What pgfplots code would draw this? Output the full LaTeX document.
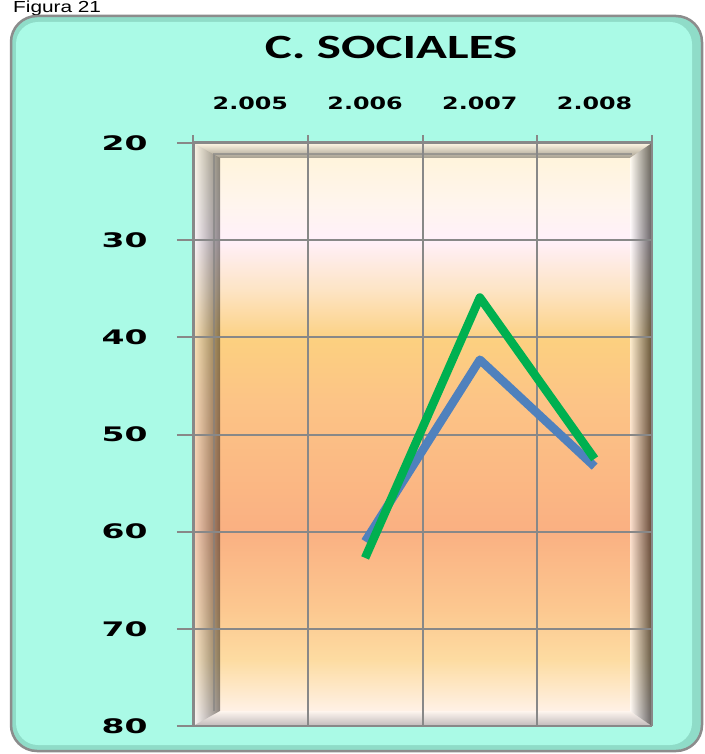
\documentclass[border=0pt]{standalone}
\usepackage{fontspec}
\setmainfont{DejaVu Sans}
\newfontfamily\titlefont{Carlito}
\newfontfamily\figfont{Liberation Sans}
\usepackage{graphicx}
\usepackage{pgfplots}
\pgfplotsset{compat=1.18}
\definecolor{aqua}{HTML}{AAFAE6}
\definecolor{aquadark}{HTML}{8FDCC8}
\definecolor{boxgray}{HTML}{8C8C8C}
\definecolor{gridgray}{HTML}{888888}
\definecolor{serblue}{HTML}{4F81BD}
\definecolor{sergreen}{HTML}{00B050}
\definecolor{g1}{HTML}{FFF3D6}
\definecolor{g2}{HTML}{FFF5EE}
\definecolor{g3}{HTML}{FFF0FA}
\definecolor{g4}{HTML}{FDE4C4}
\definecolor{g5}{HTML}{FCD080}
\definecolor{g6}{HTML}{FCC486}
\definecolor{g7}{HTML}{FAB082}
\definecolor{g8}{HTML}{FCC890}
\definecolor{g9}{HTML}{FDDCA2}
\definecolor{g10}{HTML}{FFF3EC}
\definecolor{g11}{HTML}{FFF5F5}
\begin{document}
\begin{tikzpicture}
\path[use as bounding box] (0,0) rectangle (704pt,-754pt);
\fill[white] (0,0) rectangle (704pt,-754pt);
\node[anchor=base west, inner sep=0pt, font=\figfont\fontsize{16}{16}\selectfont] at (13pt,-13pt) {\scalebox{1.3}[1]{Figura 21}};
% outer box
\fill[aquadark, rounded corners=26pt] (11pt,-16pt) rectangle (702pt,-751pt);
\fill[aqua, rounded corners=22pt] (16pt,-22pt) rectangle (692pt,-745pt);
\draw[boxgray, line width=2.5pt, rounded corners=26pt] (11pt,-16pt) rectangle (702pt,-751pt);
% plot area gradient
\shade[top color=g1, bottom color=g2] (193pt,-143pt) rectangle (652pt,-205.5pt);
\shade[top color=g2, bottom color=g3] (193pt,-205pt) rectangle (652pt,-240.5pt);
\shade[top color=g3, bottom color=g4] (193pt,-240pt) rectangle (652pt,-290.5pt);
\shade[top color=g4, bottom color=g5] (193pt,-290pt) rectangle (652pt,-340.5pt);
\shade[top color=g5, bottom color=g6] (193pt,-340pt) rectangle (652pt,-400.5pt);
\shade[top color=g6, bottom color=g7] (193pt,-400pt) rectangle (652pt,-530.5pt);
\shade[top color=g7, bottom color=g8] (193pt,-530pt) rectangle (652pt,-610.5pt);
\shade[top color=g8, bottom color=g9] (193pt,-610pt) rectangle (652pt,-660.5pt);
\shade[top color=g9, bottom color=g10] (193pt,-660pt) rectangle (652pt,-715.5pt);
\shade[top color=g10, bottom color=g11] (193pt,-715pt) rectangle (652pt,-726pt);
% 3D frame walls
\shade[left color=white, right color=black, fill opacity=0.45] (193pt,-143pt) -- (220pt,-158pt) -- (220pt,-711pt) -- (193pt,-726pt) -- cycle;
\shade[top color=white, bottom color=black, fill opacity=0.35] (193pt,-143pt) -- (652pt,-143pt) -- (630pt,-158pt) -- (220pt,-158pt) -- cycle;
\shade[left color=white, right color=black, fill opacity=0.6] (630pt,-158pt) -- (652pt,-143pt) -- (652pt,-726pt) -- (630pt,-711pt) -- cycle;
\shade[top color=white, bottom color=black!70, fill opacity=0.35] (220pt,-711pt) -- (630pt,-711pt) -- (652pt,-726pt) -- (193pt,-726pt) -- cycle;
\draw[black!50, line width=1.5pt, opacity=0.6] (214pt,-711pt) -- (214pt,-154pt) -- (632pt,-154pt);
% title
\node[anchor=base, inner sep=0pt, font=\titlefont\bfseries\fontsize{34}{34}\selectfont] at (391pt,-59pt) {\scalebox{1.5}[1]{C. SOCIALES}};
\begin{axis}[
  at={(193pt,-726pt)}, anchor=south west, scale only axis,
  width=459pt, height=583pt,
  xmin=0.5, xmax=4.5, ymin=20, ymax=80, y dir=reverse,
  axis line style={draw=none},
  /pgf/number format/assume math mode=true,
  xtick={1,2,3,4},
  xticklabels={{\scalebox{1.4}[1]{2.005}},{\scalebox{1.4}[1]{2.006}},{\scalebox{1.4}[1]{2.007}},{\scalebox{1.4}[1]{2.008}}},
  ytick={20,30,40,50,60,70,80},
  yticklabel={\scalebox{1.65}[1]{\pgfmathprintnumber{\tick}}},
  tick align=outside,
  ytick pos=left,
  xtick pos=upper, xticklabel pos=upper,
  major tick length=16pt,
  major x tick style={draw=none},
  major y tick style={draw=gridgray, line width=2pt},
  extra x ticks={0.5,1.5,2.5,3.5,4.5},
  extra x tick labels={},
  extra x tick style={grid=major, major tick length=8pt, major x tick style={draw=gridgray, line width=2pt}},
  ymajorgrids,
  grid style={draw=gridgray, line width=2pt},
  xticklabel style={font=\bfseries\fontsize{17}{17}\selectfont, anchor=center, yshift=24pt},
  yticklabel style={font=\bfseries\fontsize{20}{20}\selectfont, anchor=east, xshift=-26pt},
  clip=false,
]
\addplot[serblue, line width=8.5pt, line join=round] coordinates {(2,61.0) (3,42.3) (4,53.3)};
\addplot[sergreen, line width=8.5pt, line join=round] coordinates {(2,62.7) (3,35.9) (4,52.5)};
\end{axis}
\draw[gridgray, line width=3pt] (193pt,-726pt) -- (193pt,-143pt) -- (652pt,-143pt);
\end{tikzpicture}
\end{document}
